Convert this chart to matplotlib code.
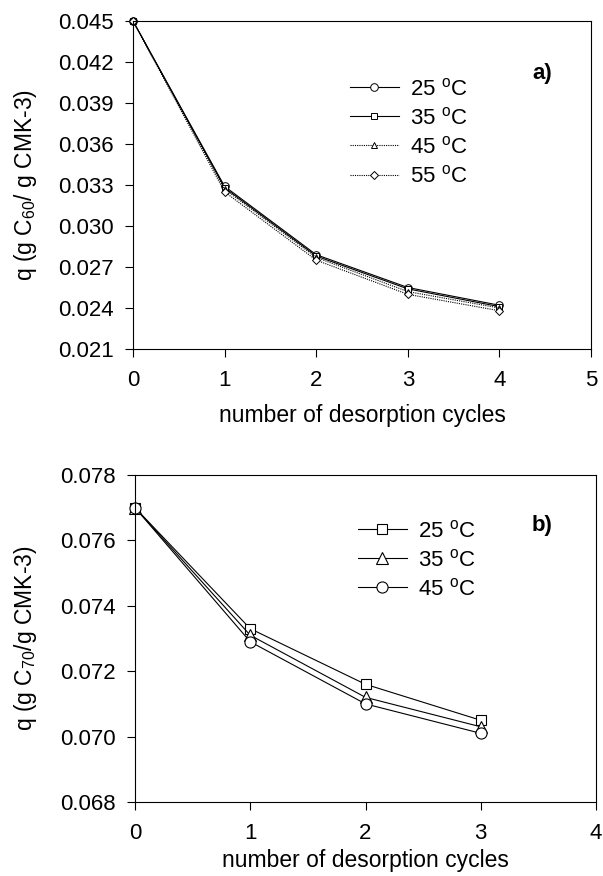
import matplotlib
matplotlib.use("Agg")
import matplotlib.pyplot as plt

plt.rcParams['font.family'] = ['Liberation Sans', 'DejaVu Sans']
plt.rcParams['mathtext.fontset'] = 'custom'
plt.rcParams['mathtext.rm'] = 'Liberation Sans'
plt.rcParams['mathtext.it'] = 'Liberation Sans'
plt.rcParams['mathtext.bf'] = 'Liberation Sans:bold'

# Panel a) data
cycles_a = [0, 1, 2, 3, 4]
q60_25 = [0.045, 0.0329, 0.0279, 0.0255, 0.0242]
q60_35 = [0.045, 0.0328, 0.0278, 0.0254, 0.0241]
q60_45 = [0.045, 0.0327, 0.0277, 0.0252, 0.0240]
q60_55 = [0.045, 0.0325, 0.0275, 0.0250, 0.0238]
labels_a = ["25 $^{\\mathrm{o}}$C", "35 $^{\\mathrm{o}}$C", "45 $^{\\mathrm{o}}$C", "55 $^{\\mathrm{o}}$C"]
yticks_a = [0.021, 0.024, 0.027, 0.030, 0.033, 0.036, 0.039, 0.042, 0.045]
xticks_a = [0, 1, 2, 3, 4, 5]

# Panel b) data
cycles_b = [0, 1, 2, 3]
q70_25 = [0.0770, 0.0733, 0.0716, 0.0705]
q70_35 = [0.0770, 0.0731, 0.0712, 0.0703]
q70_45 = [0.0770, 0.0729, 0.0710, 0.0701]
labels_b = ["25 $^{\\mathrm{o}}$C", "35 $^{\\mathrm{o}}$C", "45 $^{\\mathrm{o}}$C"]
yticks_b = [0.068, 0.070, 0.072, 0.074, 0.076, 0.078]
xticks_b = [0, 1, 2, 3, 4]

W, H = 603, 876
fig = plt.figure(figsize=(W/100, H/100), dpi=100)

TICK_FS = 16
LABEL_FS = 16.5
LEG_FS = 16

def style(ax):
    for s in ax.spines.values():
        s.set_linewidth(0.8)
    ax.tick_params(direction='out', length=6, width=0.8, labelsize=TICK_FS,
                   top=False, right=False)
    ax.tick_params(axis='x', pad=9)
    ax.tick_params(axis='y', pad=8)

# Top panel
L1, R1, T1, B1 = 133, 591, 21, 349
ax1 = fig.add_axes([L1/W, 1-B1/H, (R1-L1)/W, (B1-T1)/H])
mk = dict(markerfacecolor='white', markeredgecolor='black', markeredgewidth=0.7,
          color='black', lw=0.8, clip_on=False)
ax1.plot(cycles_a, q60_25, marker='o', ms=5.5, ls='-', label=labels_a[0], **mk)
ax1.plot(cycles_a, q60_35, marker='s', ms=4.5, ls='-', label=labels_a[1], **mk)
ax1.plot(cycles_a, q60_45, marker='^', ms=5, ls=(0, (1, 1)), label=labels_a[2], **mk)
ax1.plot(cycles_a, q60_55, marker='D', ms=4.5, ls=(0, (1, 1)), label=labels_a[3], **mk)
ax1.set_xlim(0, 5)
ax1.set_ylim(0.021, 0.045)
ax1.set_xticks(xticks_a)
ax1.set_yticks(yticks_a)
ax1.set_yticklabels([f"{v:.3f}" for v in yticks_a])
style(ax1)
ax1.set_xlabel("number of desorption cycles", fontsize=LABEL_FS)
ax1.xaxis.set_label_coords(0.5, -(404-B1)/(B1-T1))
ax1.set_ylabel("q (g C$_{60}$/ g CMK-3)", fontsize=LABEL_FS)
ax1.yaxis.set_label_coords(-(L1-39)/(R1-L1), 0.5)
ax1.legend(loc='upper left', bbox_to_anchor=((350-L1)/(R1-L1), 1-(78-T1)/(B1-T1)),
           frameon=False, fontsize=LEG_FS, handlelength=2.2, handletextpad=0.5,
           labelspacing=0.32, borderaxespad=0, borderpad=0)
fig.text(532/W, 1-74/H, "a)", fontsize=16, fontweight='bold', va='center', ha='left')

# Bottom panel
L2, R2, T2, B2 = 135, 596, 475, 802
ax2 = fig.add_axes([L2/W, 1-B2/H, (R2-L2)/W, (B2-T2)/H])
mk2 = dict(markerfacecolor='white', markeredgecolor='black', markeredgewidth=0.8,
           color='black', lw=0.8, clip_on=False)
ax2.plot(cycles_b, q70_25, marker='s', ms=7.5, ls='-', label=labels_b[0], **mk2)
ax2.plot(cycles_b, q70_35, marker='^', ms=8, ls='-', label=labels_b[1], **mk2)
ax2.plot(cycles_b, q70_45, marker='o', ms=8, ls='-', label=labels_b[2], **mk2)
ax2.set_xlim(0, 4)
ax2.set_ylim(0.068, 0.078)
ax2.set_xticks(xticks_b)
ax2.set_yticks(yticks_b)
ax2.set_yticklabels([f"{v:.3f}" for v in yticks_b])
style(ax2)
ax2.set_xlabel("number of desorption cycles", fontsize=LABEL_FS)
ax2.xaxis.set_label_coords(0.5, -(849-B2)/(B2-T2))
ax2.set_ylabel("q (g C$_{70}$/g CMK-3)", fontsize=LABEL_FS)
ax2.yaxis.set_label_coords(-(L2-39)/(R2-L2), 0.5)
ax2.legend(loc='upper left', bbox_to_anchor=((358-L2)/(R2-L2), 1-(520-T2)/(B2-T2)),
           frameon=False, fontsize=LEG_FS, handlelength=2.2, handletextpad=0.5,
           labelspacing=0.32, borderaxespad=0, borderpad=0)
fig.text(532/W, 1-526/H, "b)", fontsize=16, fontweight='bold', va='center', ha='left')

fig.savefig("out.png", dpi=100)
